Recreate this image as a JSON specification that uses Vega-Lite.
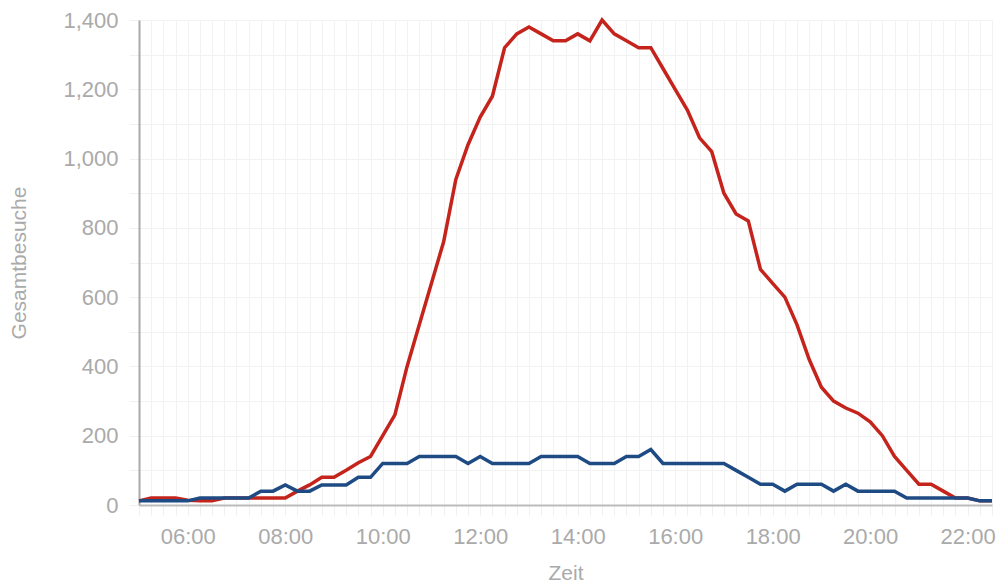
{
  "$schema": "https://vega.github.io/schema/vega-lite/v6.json",
  "width": 853,
  "height": 485,
  "autosize": "none",
  "padding": {"left": 139, "top": 20, "right": 5, "bottom": 80},
  "config": {
    "font": "Liberation Sans",
    "view": {"stroke": null}
  },
  "data": {
    "values": [
      {"t":"2024-01-01T05:00","s":"R","v":12},{"t":"2024-01-01T05:15","s":"R","v":20},{"t":"2024-01-01T05:30","s":"R","v":20},{"t":"2024-01-01T05:45","s":"R","v":20},
      {"t":"2024-01-01T06:00","s":"R","v":14},{"t":"2024-01-01T06:15","s":"R","v":12},{"t":"2024-01-01T06:30","s":"R","v":12},{"t":"2024-01-01T06:45","s":"R","v":20},
      {"t":"2024-01-01T07:00","s":"R","v":20},{"t":"2024-01-01T07:15","s":"R","v":20},{"t":"2024-01-01T07:30","s":"R","v":20},{"t":"2024-01-01T07:45","s":"R","v":20},
      {"t":"2024-01-01T08:00","s":"R","v":20},{"t":"2024-01-01T08:15","s":"R","v":40},{"t":"2024-01-01T08:30","s":"R","v":58},{"t":"2024-01-01T08:45","s":"R","v":80},
      {"t":"2024-01-01T09:00","s":"R","v":80},{"t":"2024-01-01T09:15","s":"R","v":100},{"t":"2024-01-01T09:30","s":"R","v":122},{"t":"2024-01-01T09:45","s":"R","v":140},
      {"t":"2024-01-01T10:00","s":"R","v":200},{"t":"2024-01-01T10:15","s":"R","v":260},{"t":"2024-01-01T10:30","s":"R","v":400},{"t":"2024-01-01T10:45","s":"R","v":520},
      {"t":"2024-01-01T11:00","s":"R","v":640},{"t":"2024-01-01T11:15","s":"R","v":760},{"t":"2024-01-01T11:30","s":"R","v":940},{"t":"2024-01-01T11:45","s":"R","v":1040},
      {"t":"2024-01-01T12:00","s":"R","v":1120},{"t":"2024-01-01T12:15","s":"R","v":1180},{"t":"2024-01-01T12:30","s":"R","v":1320},{"t":"2024-01-01T12:45","s":"R","v":1360},
      {"t":"2024-01-01T13:00","s":"R","v":1380},{"t":"2024-01-01T13:15","s":"R","v":1360},{"t":"2024-01-01T13:30","s":"R","v":1340},{"t":"2024-01-01T13:45","s":"R","v":1340},
      {"t":"2024-01-01T14:00","s":"R","v":1360},{"t":"2024-01-01T14:15","s":"R","v":1340},{"t":"2024-01-01T14:30","s":"R","v":1400},{"t":"2024-01-01T14:45","s":"R","v":1360},
      {"t":"2024-01-01T15:00","s":"R","v":1340},{"t":"2024-01-01T15:15","s":"R","v":1320},{"t":"2024-01-01T15:30","s":"R","v":1320},{"t":"2024-01-01T15:45","s":"R","v":1260},
      {"t":"2024-01-01T16:00","s":"R","v":1200},{"t":"2024-01-01T16:15","s":"R","v":1140},{"t":"2024-01-01T16:30","s":"R","v":1060},{"t":"2024-01-01T16:45","s":"R","v":1020},
      {"t":"2024-01-01T17:00","s":"R","v":900},{"t":"2024-01-01T17:15","s":"R","v":840},{"t":"2024-01-01T17:30","s":"R","v":820},{"t":"2024-01-01T17:45","s":"R","v":680},
      {"t":"2024-01-01T18:00","s":"R","v":640},{"t":"2024-01-01T18:15","s":"R","v":600},{"t":"2024-01-01T18:30","s":"R","v":520},{"t":"2024-01-01T18:45","s":"R","v":420},
      {"t":"2024-01-01T19:00","s":"R","v":340},{"t":"2024-01-01T19:15","s":"R","v":300},{"t":"2024-01-01T19:30","s":"R","v":280},{"t":"2024-01-01T19:45","s":"R","v":265},
      {"t":"2024-01-01T20:00","s":"R","v":240},{"t":"2024-01-01T20:15","s":"R","v":200},{"t":"2024-01-01T20:30","s":"R","v":140},{"t":"2024-01-01T20:45","s":"R","v":100},
      {"t":"2024-01-01T21:00","s":"R","v":60},{"t":"2024-01-01T21:15","s":"R","v":60},{"t":"2024-01-01T21:30","s":"R","v":40},{"t":"2024-01-01T21:45","s":"R","v":20},
      {"t":"2024-01-01T22:00","s":"R","v":20},{"t":"2024-01-01T22:15","s":"R","v":12},{"t":"2024-01-01T22:30","s":"R","v":12},
      {"t":"2024-01-01T05:00","s":"B","v":12},{"t":"2024-01-01T05:15","s":"B","v":12},{"t":"2024-01-01T05:30","s":"B","v":12},{"t":"2024-01-01T05:45","s":"B","v":12},
      {"t":"2024-01-01T06:00","s":"B","v":12},{"t":"2024-01-01T06:15","s":"B","v":20},{"t":"2024-01-01T06:30","s":"B","v":20},{"t":"2024-01-01T06:45","s":"B","v":20},
      {"t":"2024-01-01T07:00","s":"B","v":20},{"t":"2024-01-01T07:15","s":"B","v":20},{"t":"2024-01-01T07:30","s":"B","v":40},{"t":"2024-01-01T07:45","s":"B","v":40},
      {"t":"2024-01-01T08:00","s":"B","v":58},{"t":"2024-01-01T08:15","s":"B","v":40},{"t":"2024-01-01T08:30","s":"B","v":40},{"t":"2024-01-01T08:45","s":"B","v":58},
      {"t":"2024-01-01T09:00","s":"B","v":58},{"t":"2024-01-01T09:15","s":"B","v":58},{"t":"2024-01-01T09:30","s":"B","v":80},{"t":"2024-01-01T09:45","s":"B","v":80},
      {"t":"2024-01-01T10:00","s":"B","v":120},{"t":"2024-01-01T10:15","s":"B","v":120},{"t":"2024-01-01T10:30","s":"B","v":120},{"t":"2024-01-01T10:45","s":"B","v":140},
      {"t":"2024-01-01T11:00","s":"B","v":140},{"t":"2024-01-01T11:15","s":"B","v":140},{"t":"2024-01-01T11:30","s":"B","v":140},{"t":"2024-01-01T11:45","s":"B","v":120},
      {"t":"2024-01-01T12:00","s":"B","v":140},{"t":"2024-01-01T12:15","s":"B","v":120},{"t":"2024-01-01T12:30","s":"B","v":120},{"t":"2024-01-01T12:45","s":"B","v":120},
      {"t":"2024-01-01T13:00","s":"B","v":120},{"t":"2024-01-01T13:15","s":"B","v":140},{"t":"2024-01-01T13:30","s":"B","v":140},{"t":"2024-01-01T13:45","s":"B","v":140},
      {"t":"2024-01-01T14:00","s":"B","v":140},{"t":"2024-01-01T14:15","s":"B","v":120},{"t":"2024-01-01T14:30","s":"B","v":120},{"t":"2024-01-01T14:45","s":"B","v":120},
      {"t":"2024-01-01T15:00","s":"B","v":140},{"t":"2024-01-01T15:15","s":"B","v":140},{"t":"2024-01-01T15:30","s":"B","v":160},{"t":"2024-01-01T15:45","s":"B","v":120},
      {"t":"2024-01-01T16:00","s":"B","v":120},{"t":"2024-01-01T16:15","s":"B","v":120},{"t":"2024-01-01T16:30","s":"B","v":120},{"t":"2024-01-01T16:45","s":"B","v":120},
      {"t":"2024-01-01T17:00","s":"B","v":120},{"t":"2024-01-01T17:15","s":"B","v":100},{"t":"2024-01-01T17:30","s":"B","v":80},{"t":"2024-01-01T17:45","s":"B","v":60},
      {"t":"2024-01-01T18:00","s":"B","v":60},{"t":"2024-01-01T18:15","s":"B","v":40},{"t":"2024-01-01T18:30","s":"B","v":60},{"t":"2024-01-01T18:45","s":"B","v":60},
      {"t":"2024-01-01T19:00","s":"B","v":60},{"t":"2024-01-01T19:15","s":"B","v":40},{"t":"2024-01-01T19:30","s":"B","v":60},{"t":"2024-01-01T19:45","s":"B","v":40},
      {"t":"2024-01-01T20:00","s":"B","v":40},{"t":"2024-01-01T20:15","s":"B","v":40},{"t":"2024-01-01T20:30","s":"B","v":40},{"t":"2024-01-01T20:45","s":"B","v":20},
      {"t":"2024-01-01T21:00","s":"B","v":20},{"t":"2024-01-01T21:15","s":"B","v":20},{"t":"2024-01-01T21:30","s":"B","v":20},{"t":"2024-01-01T21:45","s":"B","v":20},
      {"t":"2024-01-01T22:00","s":"B","v":20},{"t":"2024-01-01T22:15","s":"B","v":12},{"t":"2024-01-01T22:30","s":"B","v":12}
    ]
  },
  "mark": {"type": "line", "strokeWidth": 3.5},
  "encoding": {
    "x": {
      "field": "t",
      "type": "temporal",
      "scale": {"nice": false},
      "axis": {
        "title": "Zeit",
        "tickCount": 70,
        "format": "%H:%M",
        "labelExpr": "indexof(['06:00','08:00','10:00','12:00','14:00','16:00','18:00','20:00','22:00'], datum.label) >= 0 ? datum.label : ''",
        "labelOverlap": false,
        "labelFlush": false,
        "grid": true,
        "gridColor": "#f2f2f2",
        "gridWidth": 1,
        "domainColor": "#bbbbbb",
        "domainWidth": 2,
        "tickColor": "#f0f0f0",
        "tickSize": 10,
        "labelPadding": 11,
        "labelFontSize": 22,
        "labelColor": "#aaaaaa",
        "titleFontSize": 21,
        "titleColor": "#aaaaaa",
        "titleFontWeight": "normal",
        "titlePadding": 15
      }
    },
    "y": {
      "field": "v",
      "type": "quantitative",
      "scale": {"domain": [0, 1400], "nice": false},
      "axis": {
        "title": "Gesamtbesuche",
        "values": [0, 100, 200, 300, 400, 500, 600, 700, 800, 900, 1000, 1100, 1200, 1300, 1400],
        "labelExpr": "datum.value % 200 == 0 ? datum.label : ''",
        "labelOverlap": false,
        "grid": true,
        "gridColor": "#f2f2f2",
        "gridWidth": 1,
        "domainColor": "#aaaaaa",
        "domainWidth": 2,
        "tickColor": "#f0f0f0",
        "tickSize": 10,
        "labelPadding": 11,
        "labelFontSize": 22,
        "labelColor": "#aaaaaa",
        "titleFontSize": 21,
        "titleColor": "#aaaaaa",
        "titleFontWeight": "normal",
        "titlePadding": 33
      }
    },
    "color": {
      "field": "s",
      "type": "nominal",
      "scale": {"domain": ["R", "B"], "range": ["#c4241c", "#1e4b84"]},
      "legend": null
    }
  }
}
